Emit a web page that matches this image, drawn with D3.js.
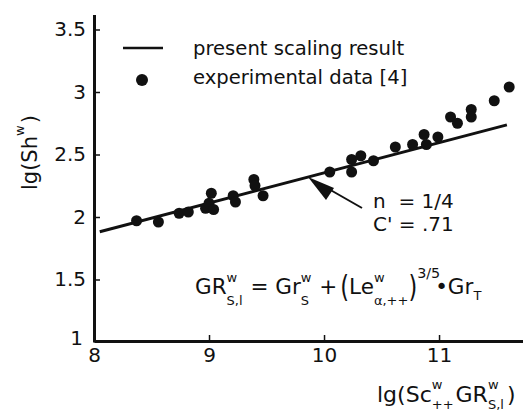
<!DOCTYPE html>
<html>
<head>
<meta charset="utf-8">
<script src="https://cdn.jsdelivr.net/npm/d3@7"></script>
<style>
  body { margin: 0; background: #fff; }
  svg { display: block; font-family: 'DejaVu Sans', 'Liberation Sans', Arial, sans-serif; }
  text { fill: #111; }
</style>
</head>
<body>
<svg width="523" height="414"></svg>
<script>
const expX = [8.37, 8.56, 8.74, 8.82, 8.97, 9.0, 9.02, 9.04, 9.21, 9.23, 9.39, 9.40, 9.47,
  10.05, 10.24, 10.24, 10.32, 10.43, 10.62, 10.77, 10.87, 10.89, 10.99,
  11.10, 11.16, 11.28, 11.28, 11.48, 11.61]
const expY = [1.97, 1.96, 2.03, 2.04, 2.07, 2.11, 2.19, 2.06, 2.17, 2.12, 2.30, 2.25, 2.17,
  2.36, 2.46, 2.36, 2.49, 2.45, 2.56, 2.58, 2.66, 2.58, 2.64,
  2.80, 2.75, 2.86, 2.80, 2.93, 3.04]

// present scaling result (straight line, n = 1/4)
const fitX = [8.05, 11.59]
const fitY = [1.882, 2.737]

const xTicks = [8, 9, 10, 11]
const yTicks = [1, 1.5, 2, 2.5, 3, 3.5]

const svg = d3.select('svg')
const x = d3.scaleLinear().domain([8, 11.73]).range([94, 523])
const y = d3.scaleLinear().domain([1, 3.62]).range([342, 14.5])

const nb = '\u00a0'

// helper: lay out text with stacked super/subscripts
const mathText = (g, x0, y0, parts, size) => {
  let cx = x0
  parts.forEach((p) => {
    if (p.t !== undefined) {
      const fs = p.size || size
      const t = g.append('text').attr('x', cx).attr('y', y0 + (p.dy || 0))
        .attr('font-size', fs).text(p.t)
      if (p.sx) t.attr('transform', `translate(${cx},${y0}) scale(${p.sx},1) translate(${-cx},${-y0})`)
      cx += t.node().getComputedTextLength() * (p.sx || 1) + (p.gap || 0)
    } else {
      let w = 0
      if (p.sup) {
        const t = g.append('text').attr('x', cx + (p.supx || 0)).attr('y', y0 - (p.supUp || 8))
          .attr('font-size', p.supSize || 13).text(p.sup)
        w = Math.max(w, t.node().getComputedTextLength() + (p.supx || 0))
      }
      if (p.sub) {
        const t = g.append('text').attr('x', cx).attr('y', y0 + (p.subDown || 7))
          .attr('font-size', p.subSize || 13).text(p.sub)
        w = Math.max(w, t.node().getComputedTextLength())
      }
      cx += w + (p.gap || 0)
    }
  })
  return cx
}

// axes
const xAxis = d3.axisBottom(x).tickValues(xTicks).tickSizeInner(-6).tickSizeOuter(0)
  .tickPadding(7).tickFormat(d3.format('d'))
const yAxis = d3.axisLeft(y).tickValues(yTicks).tickSizeInner(-6).tickSizeOuter(0)
  .tickPadding(8).tickFormat((d) => d3.format('')(d))

const gx = svg.append('g').attr('transform', 'translate(0,341)').call(xAxis)
const gy = svg.append('g').attr('transform', 'translate(94,0)').call(yAxis)

;[gx, gy].forEach((g) => {
  g.select('.domain').attr('stroke', '#111').attr('stroke-width', 3)
  g.selectAll('.tick line').attr('stroke', '#111').attr('stroke-width', 1.5)
  g.selectAll('.tick text').attr('font-size', 20).attr('fill', '#111')
    .attr('font-family', "'DejaVu Sans', Arial, sans-serif")
})
gy.selectAll('.tick').filter((d) => d === 1).select('line').remove()
gy.selectAll('.tick').filter((d) => d === 1).select('text').attr('dy', '0.12em').attr('x', -11)
gx.selectAll('.tick').filter((d) => d === 8).select('line').remove()

// fitted line
svg.append('path')
  .datum(fitX.map((v, i) => [v, fitY[i]]))
  .attr('d', d3.line().x((d) => x(d[0])).y((d) => y(d[1])))
  .attr('stroke', '#111').attr('stroke-width', 3).attr('fill', 'none')

// experimental points
svg.append('g').selectAll('circle')
  .data(expX.map((v, i) => [v, expY[i]]))
  .join('circle')
  .attr('cx', (d) => x(d[0]))
  .attr('cy', (d) => y(d[1]))
  .attr('r', 5.5)
  .attr('fill', '#111')

// legend
svg.append('line').attr('x1', 123).attr('x2', 163).attr('y1', 48).attr('y2', 48)
  .attr('stroke', '#111').attr('stroke-width', 2.5)
svg.append('circle').attr('cx', 142).attr('cy', 80).attr('r', 6).attr('fill', '#111')
svg.append('text').attr('x', 193).attr('y', 55).attr('font-size', 19.6).text('present scaling result')
svg.append('text').attr('x', 193).attr('y', 84).attr('font-size', 19.6).text('experimental data [4]')

// arrow with annotation
svg.append('line').attr('x1', 362).attr('y1', 208).attr('x2', 320).attr('y2', 184)
  .attr('stroke', '#111').attr('stroke-width', 2)
svg.append('path').attr('d', 'M308,177 L334,188 L326,200 Z').attr('fill', '#111')
svg.append('text').attr('x', 373).attr('y', 208).attr('font-size', 20).text(`n${nb}${nb}=${nb}1/4`)
svg.append('text').attr('x', 373).attr('y', 231).attr('font-size', 20).text(`C'${nb}=${nb}.71`)

// formula
const fg = svg.append('g')
mathText(fg, 195, 294, [
  { t: 'GR' },
  { sup: 'w', sub: 'S,l', supUp: 12, subDown: 11, gap: 1 },
  { t: `${nb}=${nb}Gr` },
  { sup: 'w', sub: 'S', supUp: 12, subDown: 11, gap: 1 },
  { t: `${nb}+`, gap: 3 },
  { t: '(', size: 30, dy: 3, sx: 0.75 },
  { t: 'Le' },
  { sup: 'w', sub: 'α,++', supUp: 12, subDown: 11 },
  { t: ')', size: 30, dy: 3, sx: 0.75 },
  { sup: '3/5', supUp: 16, supSize: 14.3, gap: -5 },
  { t: '•Gr' },
  { sub: 'T', subDown: 6 },
], 21.5)

// x axis title
const xg = svg.append('g')
mathText(xg, 377, 402, [
  { t: 'lg(Sc' },
  { sup: 'w', sub: '++', supUp: 13, subDown: 7, gap: 2 },
  { t: 'GR' },
  { sup: 'w', sub: 'S,l', supUp: 13, subDown: 7, gap: 3 },
  { t: ')' },
], 22)

// y axis title
const yg = svg.append('g').attr('transform', 'translate(37,190) rotate(-90)')
mathText(yg, 0, 0, [
  { t: 'lg(Sh' },
  { sup: 'w', supUp: 13, gap: 2 },
  { t: ')' },
], 21)
</script>
</body>
</html>
